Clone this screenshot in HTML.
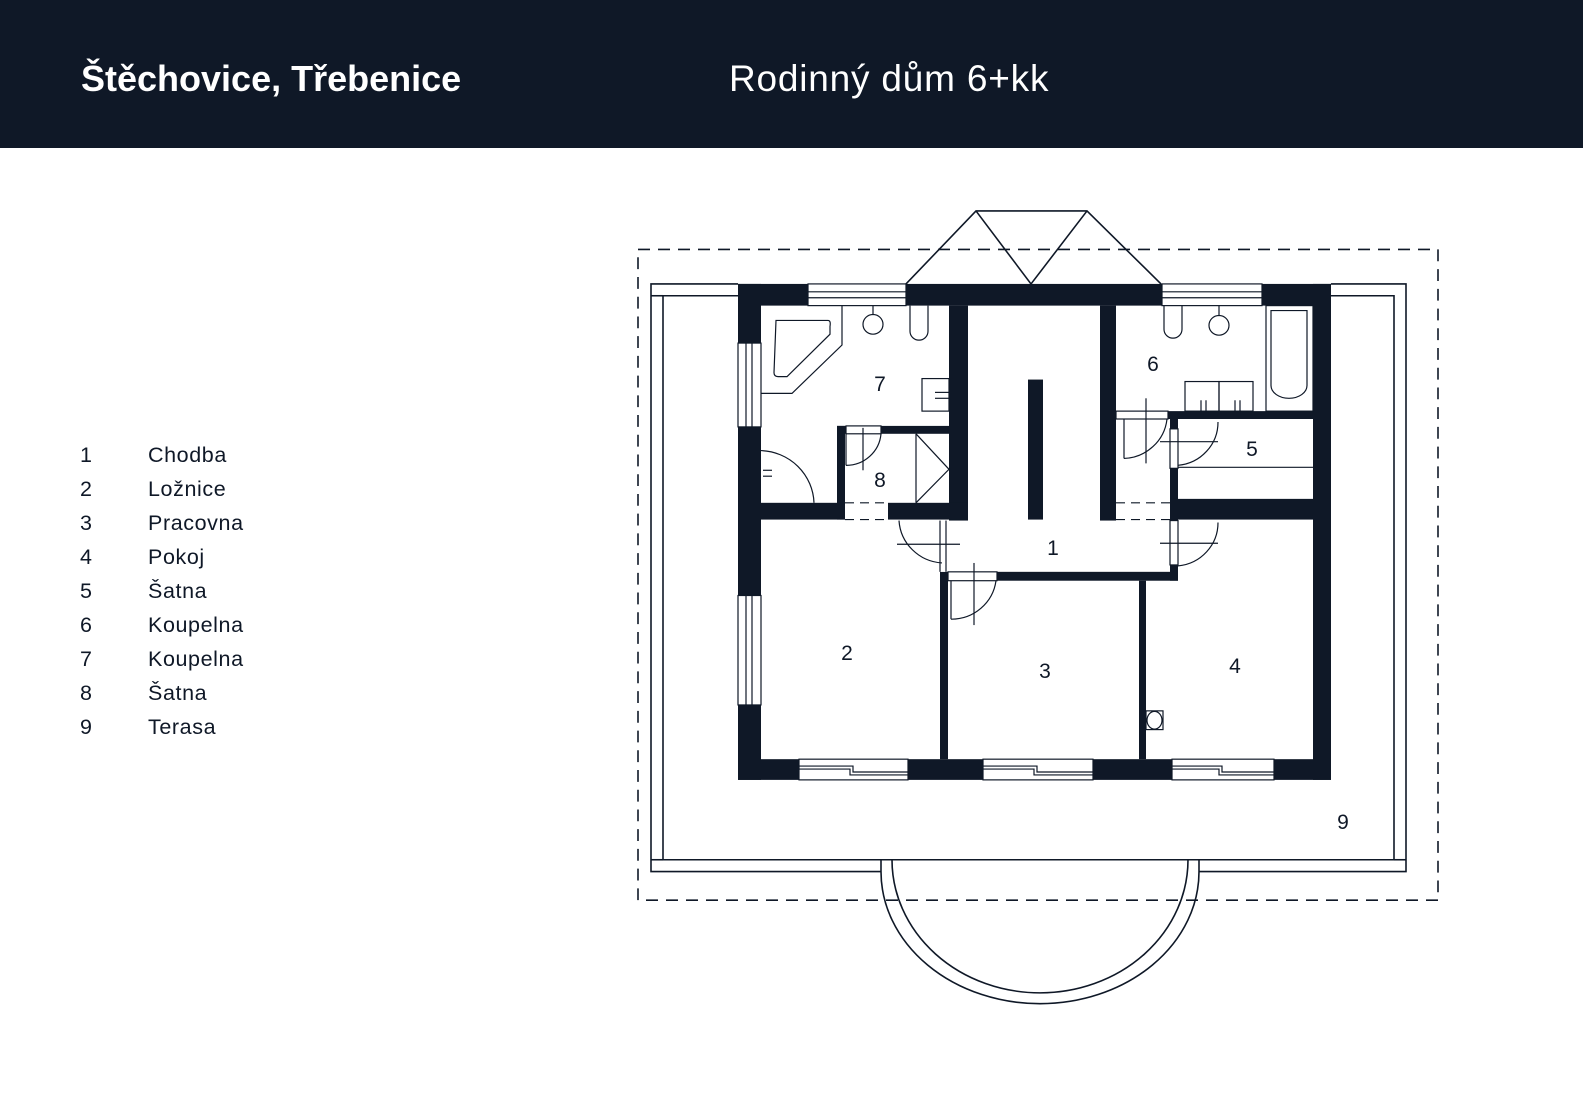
<!DOCTYPE html>
<html><head><meta charset="utf-8"><style>
html,body{margin:0;padding:0;background:#fff;}
body{width:1583px;height:1120px;position:relative;overflow:hidden;font-family:"Liberation Sans","DejaVu Sans",sans-serif;}
.hdr{position:absolute;left:0;top:0;width:1583px;height:148px;background:#0f1827;}
.t1{position:absolute;left:81px;top:57px;color:#fff;font-size:36px;font-weight:bold;line-height:44px;letter-spacing:0px;white-space:nowrap;}
.t2{position:absolute;left:729px;top:57px;color:#fff;font-size:37px;line-height:44px;letter-spacing:0.8px;white-space:nowrap;}
.leg{position:absolute;font-size:21.5px;color:#0f1827;line-height:24px;letter-spacing:0.6px;white-space:nowrap;}
svg{position:absolute;left:0;top:0;}
</style></head><body>
<div class="hdr"></div>
<div class="t1">Štěchovice, Třebenice</div>
<div class="t2">Rodinný dům 6+kk</div>

<div class="leg" style="left:80px;top:443px">1</div><div class="leg" style="left:148px;top:443px">Chodba</div>
<div class="leg" style="left:80px;top:477px">2</div><div class="leg" style="left:148px;top:477px">Ložnice</div>
<div class="leg" style="left:80px;top:511px">3</div><div class="leg" style="left:148px;top:511px">Pracovna</div>
<div class="leg" style="left:80px;top:545px">4</div><div class="leg" style="left:148px;top:545px">Pokoj</div>
<div class="leg" style="left:80px;top:579px">5</div><div class="leg" style="left:148px;top:579px">Šatna</div>
<div class="leg" style="left:80px;top:613px">6</div><div class="leg" style="left:148px;top:613px">Koupelna</div>
<div class="leg" style="left:80px;top:647px">7</div><div class="leg" style="left:148px;top:647px">Koupelna</div>
<div class="leg" style="left:80px;top:681px">8</div><div class="leg" style="left:148px;top:681px">Šatna</div>
<div class="leg" style="left:80px;top:715px">9</div><div class="leg" style="left:148px;top:715px">Terasa</div>

<svg width="1583" height="1120" viewBox="0 0 1583 1120">
<g transform="translate(0,3.9) scale(1,0.986)">
<g fill="none" stroke="#0f1827" stroke-width="1.6">
  <rect x="638" y="249" width="800" height="660" stroke-dasharray="12,8"/>
  <polyline points="738,284 651,284 651,880 881,880"/>
  <polyline points="738,296 663,296 663,868 892,868"/>
  <polyline points="1331,284 1406,284 1406,880 1199,880"/>
  <polyline points="1331,296 1394,296 1394,868 1188,868"/>
  <line x1="651" y1="296" x2="663" y2="296"/>
  <line x1="651" y1="868" x2="663" y2="868"/>
  <line x1="1394" y1="868" x2="1406" y2="868"/>
  <path d="M881,868 L881,880 A159,134 0 0 0 1199,880 L1199,868 Z"/>
  <path d="M892,868 A148,135 0 0 0 1188,868"/>
  <polyline points="906,284 976,210 1087,210 1161,284"/>
  <polyline points="976,210 1031,284 1087,210"/>
</g>
<g fill="#0f1827">
  <rect x="738" y="284" width="593" height="22"/>
  <rect x="738" y="766" width="593" height="21"/>
  <rect x="738" y="284" width="23" height="503"/>
  <rect x="1313" y="284" width="18" height="503"/>
  <rect x="949" y="306" width="19" height="218"/>
  <rect x="1100" y="306" width="16" height="218"/>
  <rect x="1028" y="381" width="15" height="142"/>
  <rect x="761" y="506" width="84" height="17"/>
  <rect x="888" y="506" width="80" height="17"/>
  <rect x="837" y="428" width="8" height="95"/>
  <rect x="837" y="428" width="113" height="8"/>
  <rect x="997" y="576" width="181" height="9"/>
  <rect x="940" y="576" width="8" height="190"/>
  <rect x="1139" y="585" width="7" height="181"/>
  <rect x="1170" y="421" width="8" height="164"/>
  <rect x="1116" y="413" width="197" height="8"/>
  <rect x="1170" y="502" width="143" height="21"/>
</g>
<g fill="#fff" stroke="#0f1827" stroke-width="1.2">
  <rect x="808" y="284" width="98" height="22"/>
  <rect x="1162" y="284" width="100" height="22"/>
  <rect x="738" y="344" width="23" height="85"/>
  <rect x="738" y="600" width="23" height="111"/>
  <rect x="799" y="766" width="109" height="21"/>
  <rect x="983" y="766" width="110" height="21"/>
  <rect x="1172" y="766" width="102" height="21"/>
  <rect x="846" y="428" width="35" height="8"/>
  <rect x="1116" y="413" width="52" height="8"/>
  <rect x="1170" y="431" width="8" height="40"/>
  <rect x="1170" y="524" width="8" height="45"/>
  <rect x="940" y="524" width="8" height="52" stroke="none"/>
  <rect x="948" y="576" width="49" height="9"/>
</g>
<g stroke="#0f1827" stroke-width="1.2" fill="none">
  <line x1="808" y1="292" x2="906" y2="292"/><line x1="808" y1="298" x2="906" y2="298"/>
  <line x1="1162" y1="292" x2="1262" y2="292"/><line x1="1162" y1="298" x2="1262" y2="298"/>
  <line x1="746" y1="344" x2="746" y2="429"/><line x1="752" y1="344" x2="752" y2="429"/>
  <line x1="746" y1="600" x2="746" y2="711"/><line x1="752" y1="600" x2="752" y2="711"/>
  <polyline points="799,773 853,773 853,779 908,779"/><polyline points="799,776 850,776 850,782 908,782"/>
  <polyline points="983,773 1037,773 1037,779 1093,779"/><polyline points="983,776 1034,776 1034,782 1093,782"/>
  <polyline points="1172,773 1222,773 1222,779 1274,779"/><polyline points="1172,776 1219,776 1219,782 1274,782"/>
  <line x1="845" y1="506" x2="888" y2="506" stroke-dasharray="9,6"/>
  <line x1="845" y1="523" x2="888" y2="523" stroke-dasharray="9,6"/>
  <line x1="1116" y1="506" x2="1170" y2="506" stroke-dasharray="9,6"/>
  <line x1="1116" y1="523" x2="1170" y2="523" stroke-dasharray="9,6"/>
  <line x1="940" y1="524" x2="940" y2="576"/><line x1="946" y1="524" x2="946" y2="576"/>
  <path d="M761,453 A55,55 0 0 1 814,506"/>
  <line x1="763" y1="473" x2="772" y2="473"/><line x1="763" y1="479" x2="772" y2="479"/>
  <path d="M846,468 L846,436 M846,468 A35,35 0 0 0 881,436"/>
  <line x1="863" y1="430" x2="863" y2="473"/>
  <path d="M899,524 A46,46 0 0 0 942,567"/><line x1="897" y1="548" x2="960" y2="548"/>
  <path d="M951,624 A45,45 0 0 0 996,585"/><line x1="951" y1="585" x2="951" y2="624"/><line x1="974" y1="567" x2="974" y2="630"/>
  <path d="M1124,461 A45,45 0 0 0 1167,421"/><line x1="1124" y1="421" x2="1124" y2="461"/><line x1="1146" y1="400" x2="1146" y2="466"/>
  <path d="M1178,468 A44,44 0 0 0 1218,424"/><line x1="1160" y1="444" x2="1218" y2="444"/>
  <path d="M1178,570 A44,44 0 0 0 1218,526"/><line x1="1160" y1="547" x2="1218" y2="547"/>
  <line x1="1178" y1="470" x2="1313" y2="470"/>
  <polyline points="916,436 916,506"/><polyline points="916,436 949,472 916,506"/>
  <path d="M761,395 L792,395 L842,346 L842,306"/>
  <path d="M776,321 L828,321 Q831,321 830,327 L830,335 L787,378 L778,378 Q774,378 774,374 Z"/>
  <circle cx="873" cy="325" r="10"/><line x1="873" y1="306" x2="873" y2="315"/>
  <path d="M910,306 L910,332 a9,9 0 0 0 18,0 L928,306"/>
  <rect x="922" y="380" width="27" height="33"/>
  <line x1="935" y1="394" x2="949" y2="394"/><line x1="935" y1="400" x2="949" y2="400"/>
  <path d="M1164,306 L1164,330 a9,9 0 0 0 18,0 L1182,306"/>
  <circle cx="1219" cy="326" r="10"/><line x1="1219" y1="306" x2="1219" y2="316"/>
  <rect x="1266" y="306" width="47" height="107"/>
  <path d="M1271,311 L1307,311 L1307,387 a18,13 0 0 1 -36,0 Z"/>
  <rect x="1185" y="383" width="34" height="30"/><rect x="1219" y="383" width="34" height="30"/>
  <line x1="1201" y1="402" x2="1201" y2="413"/><line x1="1206" y1="402" x2="1206" y2="413"/>
  <line x1="1235" y1="402" x2="1235" y2="413"/><line x1="1240" y1="402" x2="1240" y2="413"/>
  <rect x="1146" y="717" width="17" height="19"/><ellipse cx="1154.5" cy="726.5" rx="7.5" ry="9"/>
</g>
</g>
<g fill="#0f1827" font-family="Liberation Sans, sans-serif" font-size="21" text-anchor="middle">
  <text x="880" y="391">7</text>
  <text x="880" y="487">8</text>
  <text x="1153" y="371">6</text>
  <text x="1252" y="456">5</text>
  <text x="1053" y="555">1</text>
  <text x="847" y="660">2</text>
  <text x="1045" y="678">3</text>
  <text x="1235" y="673">4</text>
  <text x="1343" y="829">9</text>
</g>
</svg>
</body></html>
